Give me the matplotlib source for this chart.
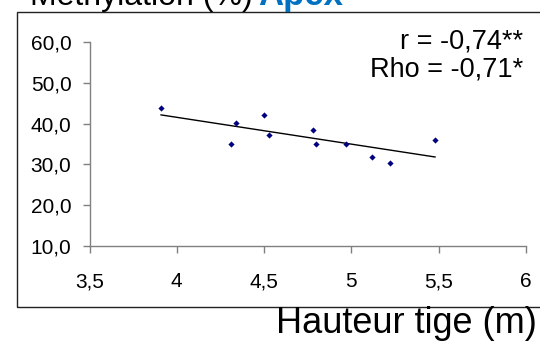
import numpy as np
import matplotlib
matplotlib.use("Agg")
import matplotlib.pyplot as plt
from matplotlib.ticker import FuncFormatter
from matplotlib.patches import Rectangle

# data
hauteur = [3.91, 4.31, 4.34, 4.50, 4.53, 4.78, 4.80, 4.97, 5.12, 5.22, 5.48]
methylation = [43.8, 35.0, 40.2, 42.0, 37.1, 38.4, 35.0, 34.9, 31.9, 30.2, 35.9]
x_ticks = [3.5, 4, 4.5, 5, 5.5, 6]
y_ticks = [10, 20, 30, 40, 50, 60]
stats_lines = ["r = -0,74**", "Rho = -0,71*"]

plt.rcParams['font.family'] = ['Liberation Sans', 'DejaVu Sans']

fig = plt.figure(figsize=(5.4, 3.43), dpi=100)

# outer frame of the chart area (right side runs off the picture)
fig.patches.append(Rectangle((16.5 / 540, 1 - 307 / 343), 0.99, (307 - 12.3) / 343,
                             transform=fig.transFigure, fill=False,
                             edgecolor='#222222', linewidth=1.0, zorder=0))

ax = fig.add_axes([89.5 / 540, 1 - 245.8 / 343, 436.3 / 540, 203.8 / 343])
ax.set_xlim(3.5, 6)
ax.set_ylim(10, 60)
ax.set_xticks(x_ticks)
ax.set_yticks(y_ticks)

def comma_x(v, pos):
    s = ('%g' % v)
    return s.replace('.', ',')

def comma_y(v, pos):
    return ('%.1f' % v).replace('.', ',')

ax.xaxis.set_major_formatter(FuncFormatter(comma_x))
ax.yaxis.set_major_formatter(FuncFormatter(comma_y))

for side in ['top', 'right']:
    ax.spines[side].set_visible(False)
for side in ['left', 'bottom']:
    ax.spines[side].set_color('#808080')
    ax.spines[side].set_linewidth(1.0)
ax.tick_params(axis='both', direction='out', length=5, width=1,
               color='#808080', labelsize=15, labelcolor='black')
ax.tick_params(axis='x', pad=14)
ax.tick_params(axis='y', pad=8)

ax.scatter(hauteur, methylation, marker='D', s=10, color='#000080', zorder=3,
           linewidths=0)

# linear trend line
a, b = np.polyfit(hauteur, methylation, 1)
xs = np.array([min(hauteur), max(hauteur)])
ax.plot(xs, a * xs + b, color='black', linewidth=1.0, zorder=2)

fig.text(523.5 / 540, 1 - 41.3 / 343, stats_lines[0], ha='right', va='center',
         fontsize=19.5)
fig.text(523.5 / 540, 1 - 70 / 343, stats_lines[1], ha='right', va='center',
         fontsize=19.5)

# title, mostly cut off at the top
fig.text(30 / 540, 1 - 5.5 / 343, "Methylation (%) ", fontsize=23, ha='left',
         va='baseline')
fig.text(258 / 540, 1 - 5.5 / 343, "Apex", fontsize=25, ha='left', va='baseline',
         color='#0070C0', fontweight='bold')

fig.text(276 / 540, 1 - 333 / 343, "Hauteur tige (m)", fontsize=26, ha='left',
         va='baseline')

fig.savefig('out.png', dpi=100)
